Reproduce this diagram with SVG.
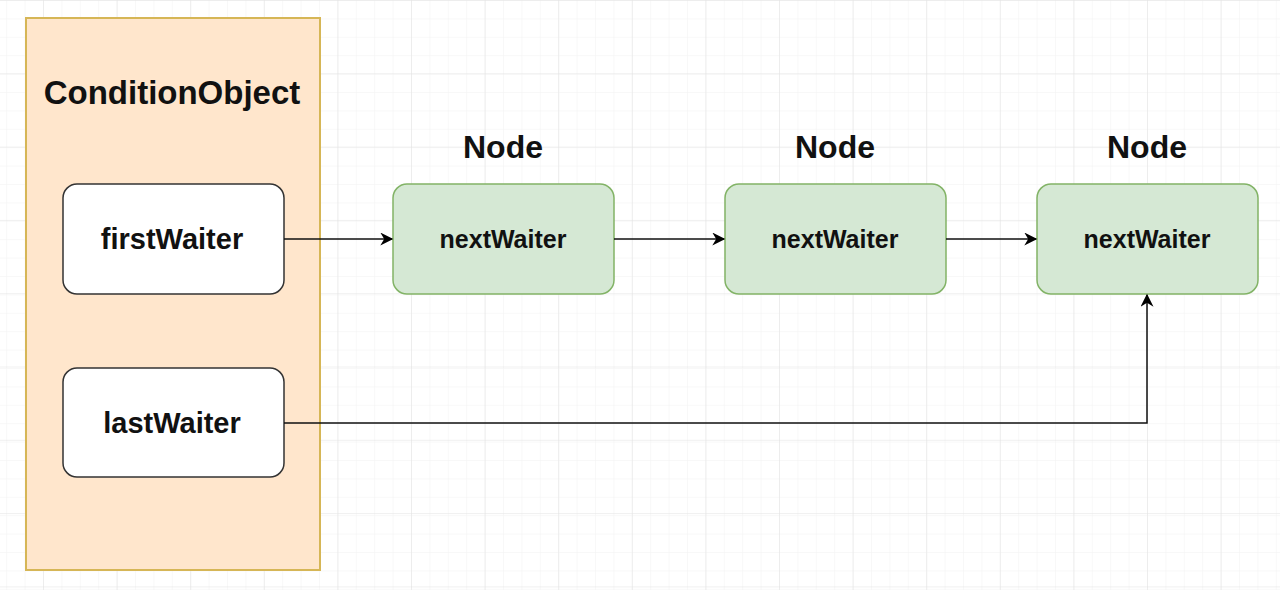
<svg xmlns="http://www.w3.org/2000/svg" width="1280" height="590" viewBox="0 0 1280 590">
  <defs>
    <pattern id="minor" x="6.2" y="0" width="18.4" height="18.4" patternUnits="userSpaceOnUse">
      <path d="M0 0V18.4M0 0H18.4" fill="none" stroke="#f2f2f2" stroke-width="1"/>
    </pattern>
    <pattern id="major" x="43" y="73.3" width="73.6" height="73.3" patternUnits="userSpaceOnUse">
      <path d="M0 0V73.3M0 0H73.6" fill="none" stroke="#e2e2e2" stroke-width="1"/>
    </pattern>
    <marker id="arrow" viewBox="0 0 10 10" refX="9" refY="5" markerWidth="15" markerHeight="13" markerUnits="userSpaceOnUse" orient="auto">
      <path d="M0 0L10 5L0 10L3 5Z" fill="#000"/>
    </marker>
    <style>
      .lbl{font-family:"Liberation Sans",Arial,sans-serif;font-weight:bold;fill:#111;text-anchor:middle;dominant-baseline:central}
      .ref{fill:#fff;stroke:#333;stroke-width:1.5}
      .node{fill:#d5e8d4;stroke:#82b366;stroke-width:1.5}
      .edge{fill:none;stroke:#111;stroke-width:1.5;marker-end:url(#arrow)}
    </style>
  </defs>
  <rect width="1280" height="590" fill="#fff"/>
  <rect width="1280" height="590" fill="url(#minor)"/>
  <rect width="1280" height="590" fill="url(#major)"/>

  <g id="conditionObject">
    <rect x="26" y="18" width="294" height="552" fill="#ffe6cc" stroke="#d6b656" stroke-width="2"/>
    <text class="lbl" x="172" y="92" font-size="33">ConditionObject</text>
  </g>
  <g id="firstWaiter">
    <rect class="ref" x="63" y="184" width="221" height="110" rx="14"/>
    <text class="lbl" x="172" y="239" font-size="29">firstWaiter</text>
  </g>
  <g id="lastWaiter">
    <rect class="ref" x="63" y="368" width="221" height="109" rx="14"/>
    <text class="lbl" x="172" y="423" font-size="29">lastWaiter</text>
  </g>
  <g id="node1">
    <text class="lbl" x="503" y="147" font-size="32">Node</text>
    <rect class="node" x="393" y="184" width="221" height="110" rx="14"/>
    <text class="lbl" x="503" y="239" font-size="25">nextWaiter</text>
  </g>
  <g id="node2">
    <text class="lbl" x="835" y="147" font-size="32">Node</text>
    <rect class="node" x="725" y="184" width="221" height="110" rx="14"/>
    <text class="lbl" x="835" y="239" font-size="25">nextWaiter</text>
  </g>
  <g id="node3">
    <text class="lbl" x="1147" y="147" font-size="32">Node</text>
    <rect class="node" x="1037" y="184" width="221" height="110" rx="14"/>
    <text class="lbl" x="1147" y="239" font-size="25">nextWaiter</text>
  </g>

  <g id="connectors">
    <path class="edge" d="M284 239H392"/>
    <path class="edge" d="M614 239H724"/>
    <path class="edge" d="M946 239H1036"/>
    <path class="edge" d="M284 423H1147V295"/>
  </g>
</svg>
